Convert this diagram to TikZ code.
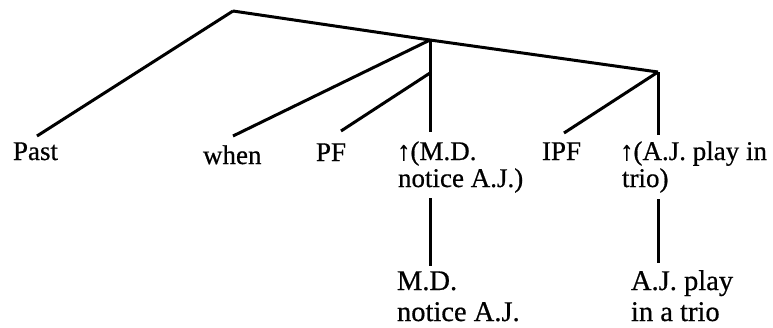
\documentclass[tikz,border=0pt]{standalone}
\usepackage{fontspec}
\setmainfont{Liberation Serif}[FakeBold=0.6]
\begin{document}
\begin{tikzpicture}[x=1pt,y=-1pt,
  branch/.style={line width=3pt},
  leaf/.style={anchor=base west,inner sep=0pt,outer sep=0pt,font=\fontsize{27}{30}\selectfont},
  low/.style={leaf,font=\fontsize{28.5}{30}\selectfont}]
\useasboundingbox (0,0) rectangle (773,327);

% branching points
\coordinate (root) at (233,11);
\coordinate (s1) at (430,40);
\coordinate (s1b) at (430,73);
\coordinate (s2) at (658,72);

% leaf labels
\node[leaf] (past) at (13,160) {Past};
\node[leaf] (when) at (203,164) {when};
\node[leaf] (pf) at (316,161) {PF};
\node[leaf] (mdA) at (397,160) {↑(M.D.};
\node[leaf] (mdB) at (398,187) {notice A.J.)};
\node[leaf] (ipf) at (542,160) {IPF};
\node[leaf] (ajA) at (620,160) {↑(A.J. play in};
\node[leaf] (ajB) at (622,187) {trio)};
\node[low] (mdC) at (397,290) {M.D.};
\node[low] (mdD) at (397,321) {notice A.J.};
\node[low] (ajC) at (631,290) {A.J. play};
\node[low] (ajD) at (631,321) {in a trio};

% free ends of the branches
\coordinate (ePast) at (37,136);
\coordinate (eWhen) at (233,136);
\coordinate (ePF) at (341,131);
\coordinate (eMD) at (430,132);
\coordinate (eIPF) at (564,133);
\coordinate (eAJ) at (658,135);
\coordinate (tMD) at (430,198);
\coordinate (bMD) at (430,266);
\coordinate (tAJ) at (658,199);
\coordinate (bAJ) at (658,263);

% tree
\draw[branch] (root) -- (s1) -- (s2);
\draw[branch] (root) -- (ePast);
\draw[branch] (s1) -- (eWhen);
\draw[branch] (s1) -- (eMD);
\draw[branch] (s1b) -- (ePF);
\draw[branch] (s2) -- (eIPF);
\draw[branch] (s2) -- (eAJ);
\draw[branch] (tMD) -- (bMD);
\draw[branch] (tAJ) -- (bAJ);
\end{tikzpicture}
\end{document}
